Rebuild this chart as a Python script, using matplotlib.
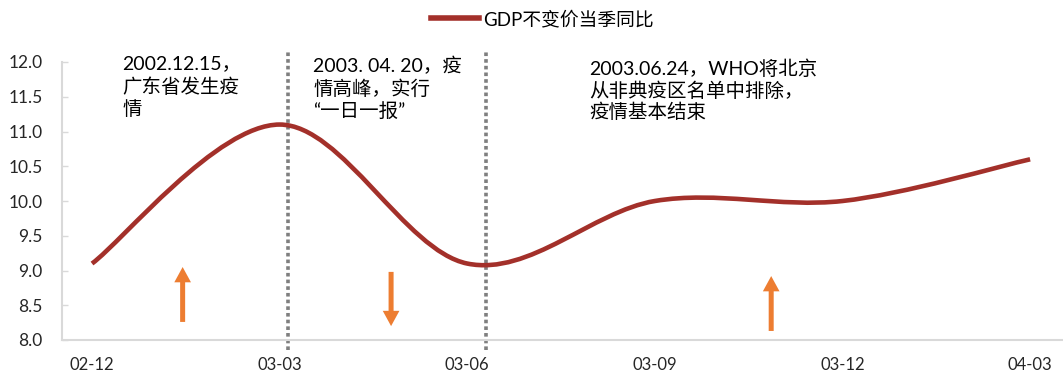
import numpy as np
import matplotlib.pyplot as plt
from matplotlib.path import Path
from matplotlib.patches import PathPatch
from matplotlib.lines import Line2D

plt.rcParams['font.family'] = ['Lato', 'Noto Sans CJK SC', 'DejaVu Sans']

# quarterly GDP growth, constant prices, yoy (%)
quarters = ['02-12', '03-03', '03-06', '03-09', '03-12', '04-03']
gdp_yoy = [9.1, 11.1, 9.1, 10.0, 10.0, 10.6]
series_name = 'GDP不变价当季同比'

# SARS timeline notes
notes = [
    '2002.12.15，\n广东省发生疫\n情',
    '2003. 04. 20，疫\n情高峰，实行\n“一日一报”',
    '2003.06.24，WHO将北京\n从非典疫区名单中排除，\n疫情基本结束',
]
note_x = [0.16, 1.18, 2.65]
note_top = [12.10, 12.08, 12.04]
note_spacing = [1.31, 1.28, 1.22]
divider_x = [1.045, 2.10]
# arrows: x, tail value, tip value
arrow_x = [0.483, 1.594, 3.62]
arrow_from = [8.26, 8.98, 8.13]
arrow_to = [9.05, 8.20, 8.92]

line_color = '#A3302A'
arrow_color = '#ED7D31'
axis_color = '#D9D9D9'
text_color = '#262626'

fig = plt.figure(figsize=(10.63, 3.74), dpi=100)
ax = fig.add_axes([62 / 1063, 1 - 340 / 374, 1000 / 1063, 278 / 374])

# smoothed line: cubic bezier through each point (catmull-rom style handles)
x = np.arange(len(gdp_yoy), dtype=float)
y = np.array(gdp_yoy)
pts = np.column_stack([x, y])
ext = np.vstack([pts[0], pts, pts[-1]])
verts = [pts[0]]
codes = [Path.MOVETO]
for i in range(len(pts) - 1):
    p0, p1, p2, p3 = ext[i], ext[i + 1], ext[i + 2], ext[i + 3]
    verts += [p1 + (p2 - p0) / 6, p2 - (p3 - p1) / 6, p2]
    codes += [Path.CURVE4] * 3
ax.add_patch(PathPatch(Path(verts, codes), fill=False, edgecolor=line_color,
                       lw=3.3, capstyle='butt', joinstyle='round', zorder=3))

# dotted dividers
for dx in divider_x:
    ax.plot([dx, dx], [7.86, 12.17], color='#7F7F7F', lw=2.6,
            linestyle=(0, (1, 0.85)), dash_capstyle='butt', clip_on=False, zorder=2)

# trend arrows
for ax_x, a0, a1 in zip(arrow_x, arrow_from, arrow_to):
    ax.annotate('', xy=(ax_x, a1), xytext=(ax_x, a0),
                arrowprops=dict(arrowstyle='simple,head_length=0.55,head_width=0.6,tail_width=0.18',
                                mutation_scale=20, color=arrow_color, lw=0,
                                shrinkA=0, shrinkB=0))

# notes
for nx, ny, ls, txt in zip(note_x, note_top, note_spacing, notes):
    ax.text(nx, ny, txt, fontsize=14, ha='left', va='top', color='black',
            linespacing=ls)

ax.set_xlim(-0.16, 5.17)
ax.set_ylim(8.0, 12.0)
ax.set_yticks(np.arange(8.0, 12.01, 0.5))
ax.set_yticklabels([f'{v:.1f}' for v in np.arange(8.0, 12.01, 0.5)])
ax.set_xticks(x)
ax.set_xticklabels(quarters)

for side in ['top', 'right']:
    ax.spines[side].set_visible(False)
for side in ['left', 'bottom']:
    ax.spines[side].set_color(axis_color)
    ax.spines[side].set_linewidth(1.5)
ax.tick_params(axis='y', direction='in', length=4.5, width=1, color=axis_color,
               pad=14, labelsize=12.5, labelcolor=text_color)
ax.tick_params(axis='x', length=0, pad=12, labelsize=12, labelcolor=text_color)

handle = Line2D([], [], color=line_color, lw=4)
fig.legend([handle], [series_name], loc='center', bbox_to_anchor=(0.51, 0.949),
           frameon=False, fontsize=13.5, handlelength=2.6, handletextpad=0.2)

fig.savefig('out.png', dpi=100)
